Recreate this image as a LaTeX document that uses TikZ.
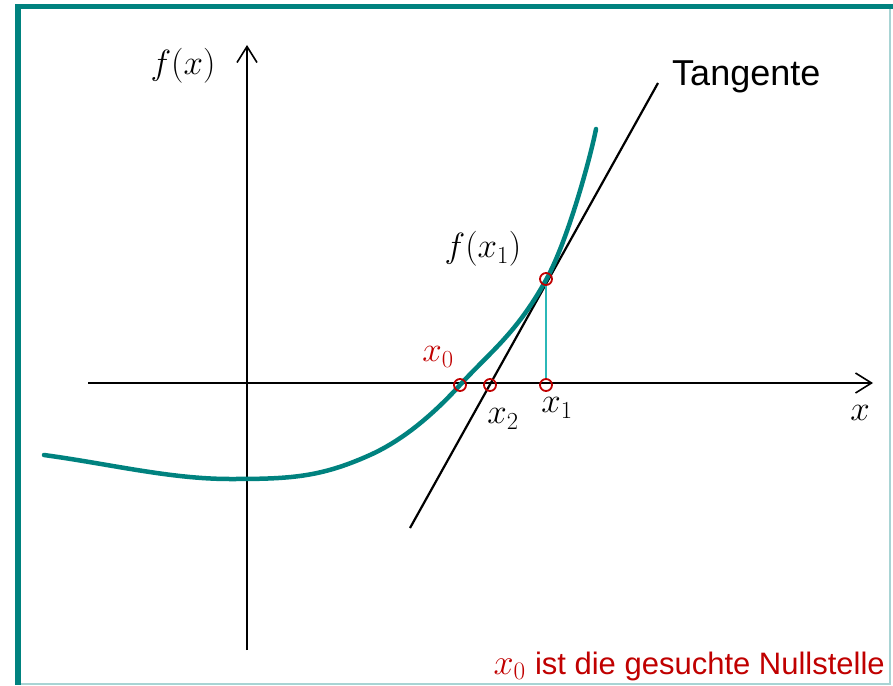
\RequirePackage{fix-cm}
\documentclass[tikz,border=0pt]{standalone}
\usepackage{fontspec}
\setsansfont{Liberation Sans}
\usetikzlibrary{arrows.meta}
\definecolor{tealc}{HTML}{00827F}
\definecolor{tealf}{HTML}{A8D4D4}
\definecolor{cyanl}{HTML}{2BB8B8}
\definecolor{redc}{HTML}{C00000}
\tikzset{
  axis/.style={line width=1.6pt, -{Straight Barb[length=16pt,width=20pt,line width=1.6pt]}},
  fcurve/.style={tealc, line width=4.5pt, line cap=round},
  tang/.style={black, line width=2.2pt},
  mark pt/.style={circle, draw=redc, line width=1.8pt, minimum size=12pt, inner sep=0pt},
  mlabel/.style={inner sep=0pt, font=\fontsize{35}{40}\selectfont},
  slabel/.style={inner sep=0pt, font=\fontsize{36}{42}\selectfont\sffamily},
}
\begin{document}
\begin{tikzpicture}[x=1pt,y=-1pt]
\useasboundingbox (0,0) rectangle (893,685);
% frame
\draw[tealf, line width=1.5pt] (21,684) -- (890,684) -- (890,9);
\fill[tealc] (15,4) rectangle (893,9);
\fill[tealc] (15,4) rectangle (21,685);
% axes
\coordinate (xs) at (88,383);
\coordinate (xe) at (873,383);
\coordinate (ys) at (247,650);
\coordinate (ye) at (247,45);
\draw[axis] (xs) -- (xe);
\draw[axis] (ys) -- (ye);
% tangent
\coordinate (t1) at (410,528);
\coordinate (t2) at (658,83);
\draw[tang] (t1) -- (t2);
% curve
\draw[fcurve] (44,455) .. controls (110,464) and (170,479) .. (230,479)
  .. controls (290,479) and (320,477.5) .. (370,455)
  .. controls (400,441.5) and (430,418) .. (460,385)
  .. controls (490,352) and (516,334) .. (546,280)
  .. controls (568,240.5) and (591,155) .. (596,129);
% points
\node[mark pt] (P0) at (460,385) {};
\node[mark pt] (P2) at (490,385) {};
\node[mark pt] (P1) at (546,385) {};
\node[mark pt] (F1) at (546,279) {};
\draw[cyanl, line width=1.4pt] (F1) -- (P1);
% labels
\node[mlabel] (lfx) at (183,66) {$f(x)$};
\node[slabel, anchor=base west] (ltan) at (672,85) {Tangente};
\node[mlabel] (lfx1) at (483,249) {$f(x_1)$};
\node[mlabel, text=redc] (lx0) at (438,357) {$x_0$};
\node[mlabel] (lx2) at (503,419) {$x_2$};
\node[mlabel] (lx1) at (557,408) {$x_1$};
\node[mlabel] (lx) at (860,413) {$x$};
\node[inner sep=0pt, anchor=base east, text=redc, font=\fontsize{31}{36}\selectfont] (note) at (885,674) {{\fontsize{36}{40}\selectfont$x_0$}\ \sffamily ist die gesuchte Nullstelle};
\end{tikzpicture}
\end{document}
